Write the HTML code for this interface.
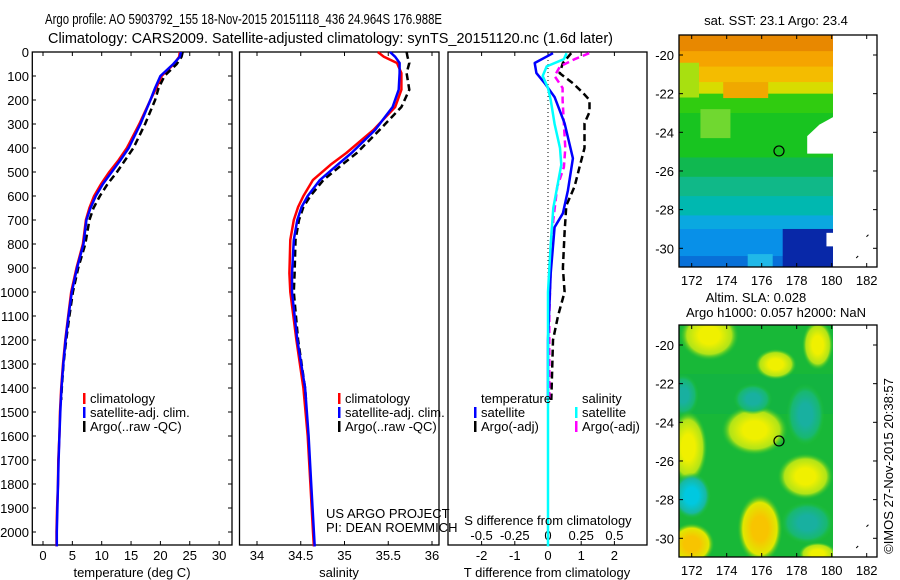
<!DOCTYPE html>
<html><head><meta charset="utf-8">
<style>
html,body{margin:0;padding:0;background:#fff;}
svg{display:block;font-family:"Liberation Sans",sans-serif;}
text{font-size:13px;fill:#000;}
</style></head>
<body>
<svg id="chart" width="900" height="580" viewBox="0 0 900 580" xmlns="http://www.w3.org/2000/svg">
<text x="45" y="24" textLength="397" lengthAdjust="spacingAndGlyphs" style="font-size:15px">Argo profile: AO 5903792_155 18-Nov-2015 20151118_436 24.964S 176.988E</text>
<text x="48" y="43" textLength="565" lengthAdjust="spacingAndGlyphs" style="font-size:15px">Climatology: CARS2009. Satellite-adjusted climatology: synTS_20151120.nc (1.6d later)</text>
<text x="776" y="25" text-anchor="middle">sat. SST: 23.1 Argo: 23.4</text>
<text x="756" y="302" text-anchor="middle">Altim. SLA: 0.028</text>
<text x="776" y="317" text-anchor="middle">Argo h1000: 0.057 h2000: NaN</text>
<text transform="translate(893,466) rotate(-90)" text-anchor="middle">©IMOS 27-Nov-2015 20:38:57</text>
<g id="g"></g>
</svg>
<script>
// ---- data ----
const tDepth=[0,20,50,100,150,200,300,400,450,500,550,600,650,700,800,900,1000,1100,1200,1300,1400,1500,1600,1700,1800,1900,2000,2060];
const tClim=[23.3,23.2,22.3,20.2,19.3,18.3,16.4,14.3,12.9,11.3,9.9,8.7,7.9,7.3,6.8,5.7,4.8,4.3,3.8,3.4,3.1,2.9,2.8,2.6,2.55,2.4,2.3,2.3];
const tSat=[23.5,23.3,22.2,20.0,19.1,18.3,16.6,14.6,13.2,11.7,10.2,9.0,8.1,7.4,6.9,5.8,4.9,4.35,3.85,3.45,3.15,2.95,2.8,2.65,2.55,2.45,2.35,2.35];
const tArgoDepth=[0,20,50,100,150,200,300,400,450,500,550,600,650,700,800,900,1000,1100,1200,1300,1400,1450];
const tArgo=[23.8,23.6,22.8,20.7,19.7,19.1,17.4,15.4,14.0,12.6,11.0,9.7,8.6,7.9,7.2,6.0,5.1,4.5,3.95,3.5,3.2,3.1];
const sDepth=[0,20,46,88,157,229,325,421,470,533,600,646,700,783,922,1000,1200,1400,1600,1800,2000,2060];
const sClim=[35.38,35.45,35.6,35.65,35.65,35.58,35.33,35.02,34.84,34.64,34.53,34.47,34.42,34.38,34.37,34.38,34.45,34.53,34.58,34.61,34.64,34.65];
const sSat=[35.52,35.58,35.63,35.63,35.62,35.55,35.35,35.08,34.92,34.72,34.58,34.51,34.46,34.42,34.40,34.40,34.46,34.55,34.59,34.62,34.65,34.66];
const sArgoDepth=[0,20,46,88,157,229,325,421,470,533,600,646,700,783,922,1000,1200,1400,1450];
const sArgo=[35.71,35.72,35.74,35.71,35.74,35.65,35.40,35.14,34.97,34.76,34.61,34.53,34.48,34.44,34.43,34.42,34.47,34.55,34.56];
const dTsatDepth=[5,46,88,130,188,297,443,577,672,730,922,1200,1450];
const dTsat=[0.15,-0.4,-0.35,-0.1,0.2,0.5,0.75,0.6,0.45,0.2,0.08,0,0];
const dTargoDepth=[5,46,88,130,170,200,250,297,400,480,560,640,750,900,1000,1100,1200,1450];
const dTargo=[0.7,0.45,0.35,0.75,1.05,1.25,1.25,1.1,1.1,0.95,0.8,0.55,0.5,0.45,0.5,0.3,0.15,0.1];
const dSsatDepth=[5,30,60,100,150,200,300,400,470,560,650,800,1000,1500,2060];
const dSsat=[0.14,0.12,-0.01,-0.04,0,0.02,0.05,0.09,0.1,0.07,0.04,0.02,0,0,0];
const dSargoDepth=[5,30,60,100,150,200,300,400,480,560,700,900,1100,1450];
const dSargo=[0.31,0.2,0.09,0.05,0.11,0.11,0.12,0.13,0.12,0.07,0.04,0.02,0.01,0.01];
const depthTicks=[0,100,200,300,400,500,600,700,800,900,1000,1100,1200,1300,1400,1500,1600,1700,1800,1900,2000];
const tTicks=[0,5,10,15,20,25,30];
const sTicks=[34,34.5,35,35.5,36];
const sTickLabels=["34","34.5","35","35.5","36"];
const dTTicks=[-2,-1,0,1,2];
const dSTicks=[-0.5,-0.25,0,0.25,0.5];
const dSTickLabels=["-0.5","-0.25","0","0.25","0.5"];
const latTicks=[-20,-22,-24,-26,-28,-30];
const lonTicks=[172,174,176,178,180,182];
const argoLon=176.988, argoLat=-24.964;

// ---- helpers ----
const NS="http://www.w3.org/2000/svg";
const G=document.getElementById('g');
function mk(tag,attrs,parent){const e=document.createElementNS(NS,tag);for(const k in attrs)e.setAttribute(k,attrs[k]);(parent||G).appendChild(e);return e;}
function txt(x,y,s,anchor,name,size){const e=mk('text',{x:x,y:y,'text-anchor':anchor||'start'});if(size)e.style.fontSize=size+'px';e.textContent=s;


return e;}
const yD=d=>52+d*0.24;
const xT=t=>43+t*5.87;
const xS=s=>257+(s-34)*87.5;
const xDT=v=>548+v*33.2;
const xDS=v=>548+v*132.8;
function line(xs,ds,fx,color,dash,name,w){
  const pts=xs.map((v,i)=>fx(v).toFixed(1)+','+yD(ds[i]).toFixed(1)).join(' ');
  const e=mk('polyline',{points:pts,fill:'none',stroke:color,'stroke-width':w||2.5,'stroke-linejoin':'round'});
  if(dash)e.setAttribute('stroke-dasharray',dash);
  
  
}
function frame(x0,x1,name){
  const r=mk('rect',{x:x0,y:52,width:x1-x0,height:493,fill:'none',stroke:'#000','stroke-width':1.3});
  
  
}
function xticks(vals,fx,labels,ly,name){
  vals.forEach((v,i)=>{const x=fx(v);
    mk('line',{x1:x,y1:52,x2:x,y2:56,stroke:'#000'});
    mk('line',{x1:x,y1:545,x2:x,y2:541,stroke:'#000'});
    if(labels)txt(x,ly,labels[i],'middle',name);});
}

// ---- panel 1 temperature ----
frame(32.3,232,'temperature-panel');
depthTicks.forEach(d=>{const y=yD(d);
  mk('line',{x1:32.3,y1:y,x2:36,y2:y,stroke:'#000'});
  mk('line',{x1:232,y1:y,x2:228,y2:y,stroke:'#000'});
  txt(29,y+5,String(d),'end','depth-tick-label');});
xticks(tTicks,xT,tTicks.map(String),560,'temperature-tick-label');
line(tClim,tDepth,xT,'#f00',null,'temperature-climatology-line');
line(tArgo,tArgoDepth,xT,'#000','7,4','temperature-argo-line');
line(tSat,tDepth,xT,'#00f',null,'temperature-satellite-line');
txt(132,577,'temperature (deg C)','middle','temperature-axis-title');
function legend(x,y,color,label,name){
  mk('rect',{x:x,y:y-10,width:2.5,height:11,fill:color});
  txt(x+7,y,label,'start',name);
}
legend(83,403,'#f00','climatology','legend-climatology');
legend(83,417,'#00f','satellite-adj. clim.','legend-satellite-adj');
legend(83,431,'#000','Argo(..raw -QC)','legend-argo');

// ---- panel 2 salinity ----
frame(239.5,439,'salinity-panel');
xticks(sTicks,xS,sTickLabels,560,'salinity-tick-label');
line(sClim,sDepth,xS,'#f00',null,'salinity-climatology-line');
line(sArgo,sArgoDepth,xS,'#000','7,4','salinity-argo-line');
line(sSat,sDepth,xS,'#00f',null,'salinity-satellite-line');
txt(339,577,'salinity','middle','salinity-axis-title');
legend(338,403,'#f00','climatology','legend-climatology-2');
legend(338,417,'#00f','satellite-adj. clim.','legend-satellite-adj-2');
legend(338,431,'#000','Argo(..raw -QC)','legend-argo-2');
txt(326,518,'US ARGO PROJECT','start','project-label');
txt(326,532,'PI: DEAN ROEMMICH','start','pi-label');

// ---- panel 3 differences ----
frame(448,647,'difference-panel');
xticks(dTTicks,xDT,dTTicks.map(String),560,'t-diff-tick-label');
dSTicks.forEach((v,i)=>txt(xDS(v),540,dSTickLabels[i],'middle','s-diff-tick-label'));
mk('line',{x1:548,y1:52,x2:548,y2:400,stroke:'#000','stroke-dasharray':'1,3'});
line(dTargo,dTargoDepth,xDT,'#000','7,4','t-diff-argo-line');
line(dSargo,dSargoDepth,xDS,'#f0f','7,4','s-diff-argo-line');
line(dTsat,dTsatDepth,xDT,'#00f',null,'t-diff-satellite-line');
line(dSsat,dSsatDepth,xDS,'#0ff',null,'s-diff-satellite-line');
txt(548,525,'S difference from climatology','middle','s-diff-axis-title');
txt(547,577,'T difference from climatology','middle','t-diff-axis-title');
txt(481,403,'temperature','start','legend-temperature-header');
txt(582,403,'salinity','start','legend-salinity-header');
legend(474,417,'#00f','satellite','legend-t-satellite');
legend(474,431,'#000','Argo(-adj)','legend-t-argo');
legend(575,417,'#0ff','satellite','legend-s-satellite');
legend(575,431,'#f0f','Argo(-adj)','legend-s-argo');

// ---- maps ----
const mxL=lon=>691.7+(lon-172)*17.5;
function drawMap(top,name,painter){
  const yL=lat=>top+20+(-20-lat)*19.33;
  const g=mk('g',{});
  
  
  const cid='clip'+top;
  const cp=mk('clipPath',{id:cid},g);
  mk('rect',{x:679,y:top,width:154,height:232},cp);
  const inner=mk('g',{'clip-path':'url(#'+cid+')'},g);
  painter(inner,yL);
  mk('rect',{x:679,y:top,width:198,height:232,fill:'none',stroke:'#000','stroke-width':1.3},g);
  latTicks.forEach(l=>{const y=yL(l);
    mk('line',{x1:679,y1:y,x2:683,y2:y,stroke:'#000'},g);
    mk('line',{x1:877,y1:y,x2:873,y2:y,stroke:'#000'},g);
    txt(674,y+5,String(l),'end','map-lat-label');});
  lonTicks.forEach(l=>{const x=mxL(l);
    mk('line',{x1:x,y1:top,x2:x,y2:top+4,stroke:'#000'},g);
    mk('line',{x1:x,y1:top+232,x2:x,y2:top+228,stroke:'#000'},g);
    txt(x,top+250,String(l),'middle','map-lon-label');});
  const c=mk('circle',{cx:mxL(argoLon),cy:yL(argoLat),r:5,fill:'none',stroke:'#000','stroke-width':1.2},g);
  
  
  mk('path',{d:`M${mxL(182.1)},${yL(-29.3)} l-2,2 M${mxL(181.4)},${yL(-30.5)} l2,-2`,stroke:'#000',fill:'none'},g);
}
drawMap(35,'sst-map',(g,yL)=>{
  const bands=[[-18,'#e88800'],[-19.8,'#f5a400'],[-20.6,'#f4bc00'],[-21.4,'#d8dc00'],[-22,'#30cc10'],[-23,'#18c420'],[-25.3,'#10b850'],[-26.3,'#10b888'],[-27.3,'#00b8b0'],[-28.3,'#0aa8e0'],[-29,'#0890e8'],[-30.4,'#0870d8']];
  bands.forEach((b,i)=>{const y0=yL(b[0]);const y1=i<bands.length-1?yL(bands[i+1][0]):320;
    mk('rect',{x:679,y:y0,width:160,height:y1-y0+1,fill:b[1]},g);});
  mk('rect',{x:679,y:yL(-20.4),width:20,height:yL(-22.2)-yL(-20.4),fill:'#a8e010'},g);
  mk('rect',{x:mxL(172.5),y:yL(-22.8),width:30,height:yL(-24.3)-yL(-22.8),fill:'#70d830'},g);
  mk('rect',{x:mxL(173.8),y:yL(-21.4),width:45,height:16,fill:'#f0a800'},g);
  mk('rect',{x:mxL(177.2),y:yL(-29),width:mxL(180.2)-mxL(177.2),height:yL(-31)-yL(-29),fill:'#0828a8'},g);
  mk('rect',{x:mxL(175.2),y:yL(-30.3),width:25,height:14,fill:'#20b8e8'},g);
  mk('path',{d:`M${mxL(180.1)},${yL(-23.2)} L${mxL(179.3)},${yL(-23.6)} L${mxL(178.6)},${yL(-24.2)} L${mxL(178.6)},${yL(-25.1)} L${mxL(180.1)},${yL(-25.1)} Z`,fill:'#fff'},g);
  mk('rect',{x:mxL(179.7),y:yL(-29.2),width:8,height:yL(-29.9)-yL(-29.2),fill:'#fff'},g);
});
drawMap(325,'sla-map',(g,yL)=>{
  const defs=mk('defs',{},g);
  [['gy','#f0f000','#b0e418'],['go','#f8c400','#e0e800'],['gt','#18b0a0','#18b870'],['gc','#00c8e0','#18b8a0']].forEach(a=>{
    const rg=mk('radialGradient',{id:a[0]},defs);
    mk('stop',{offset:'0','stop-color':a[1]},rg);
    mk('stop',{offset:'0.35','stop-color':a[1]},rg);
    mk('stop',{offset:'0.75','stop-color':a[2]},rg);
    mk('stop',{offset:'1','stop-color':'#20c030','stop-opacity':'0'},rg);});
  mk('rect',{x:679,y:325,width:160,height:232,fill:'#18b838'},g);
  mk('rect',{x:679,y:yL(-21.5),width:160,height:40,fill:'#10b048',opacity:0.6},g);
  const blobs=[[173,-19.5,1.7,1.3,'gy'],[176.8,-21,1.2,0.8,'gy'],[179.2,-20,0.9,1.3,'gy'],[171.5,-22.6,0.9,1.1,'gt'],[178.5,-23.6,1.1,1.6,'gt'],[175.6,-24.4,1.9,1.3,'gy'],[171.8,-25.3,1.1,1.9,'gy'],[178.5,-26.8,1.6,1.2,'gy'],[172,-27.8,1.1,1.2,'gc'],[175.9,-29.5,1.3,1.8,'go'],[178.6,-29.2,1.5,1.1,'gt'],[172,-30.3,1.3,1.1,'go'],[179.2,-30.8,1.1,0.6,'gy'],[175.5,-22.8,1.1,0.8,'gt']];
  blobs.forEach(b=>mk('ellipse',{cx:mxL(b[0]),cy:yL(b[1]),rx:b[2]*17.5,ry:b[3]*19.33,fill:'url(#'+b[4]+')'},g));
});
</script>
</body></html>
